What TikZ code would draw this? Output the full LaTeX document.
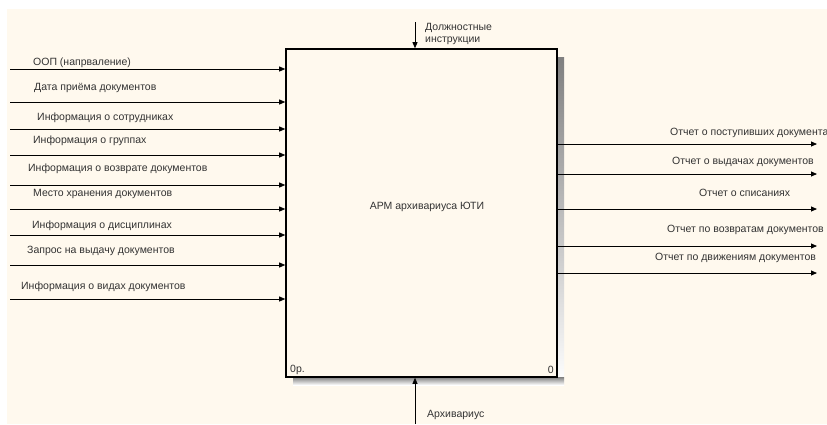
\documentclass[tikz,border=0pt]{standalone}
\usepackage{fontspec}
\setmainfont{Liberation Sans}
\usetikzlibrary{arrows.meta}
\usetikzlibrary{positioning}
\definecolor{paper}{HTML}{FFF9EE}
\definecolor{ink}{HTML}{333333}
\definecolor{shade}{HTML}{ABABAB}
\tikzset{
  flow/.style={-{Triangle[length=6pt,width=5pt]}, line width=0.8pt},
  lbl/.style={anchor=west, inner sep=0pt, text=ink, font=\fontsize{10.5}{12}\selectfont},
}

\begin{document}
\begin{tikzpicture}[x=1pt,y=-1pt]
\useasboundingbox (0,0) rectangle (827,424);
\clip (0,0) rectangle (827,424);
\fill[paper] (7,9) rectangle (827,424);
% shadow of the box
\fill[shade] (557,57) rectangle (564,385);
\fill[shade] (293,377) rectangle (564,385);
\node[draw, line width=1.6pt, fill=paper, minimum width=271pt, minimum height=328pt, inner sep=0pt] (arm) at (421.5,213) {};
\node[lbl, anchor=center] (armname) at (427,207) {АРМ архивариуса ЮТИ};
\node[lbl] (arml) at (290,370) {0р.};
\node[lbl, anchor=east] (armr) at (554,370) {0};

% control and mechanism
\coordinate (ctl) at (415,22);
\draw[flow] (ctl) -- (ctl |- arm.north);
\node[lbl, align=left] (ctlname) at (425,34) {Должностные\\инструкции};
\coordinate (mech) at (415,424);
\draw[flow] (mech) -- (mech |- arm.south);
\node[lbl] (mechname) at (427,415) {Архивариус};

% inputs
\coordinate (in1) at (10,69);
\draw[flow] (in1) -- (in1 -| arm.west);
\node[lbl] (in1name) at (33,63) {ООП (напрваление)};
\coordinate (in2) at (10,102);
\draw[flow] (in2) -- (in2 -| arm.west);
\node[lbl] (in2name) at (34,88) {Дата приёма документов};
\coordinate (in3) at (10,129);
\draw[flow] (in3) -- (in3 -| arm.west);
\node[lbl] (in3name) at (37,118) {Информация о сотрудниках};
\coordinate (in4) at (10,155);
\draw[flow] (in4) -- (in4 -| arm.west);
\node[lbl] (in4name) at (33,141) {Информация о группах};
\coordinate (in5) at (10,185);
\draw[flow] (in5) -- (in5 -| arm.west);
\node[lbl] (in5name) at (28,169) {Информация о возврате документов};
\coordinate (in6) at (10,209);
\draw[flow] (in6) -- (in6 -| arm.west);
\node[lbl] (in6name) at (33,194) {Место хранения документов};
\coordinate (in7) at (10,235);
\draw[flow] (in7) -- (in7 -| arm.west);
\node[lbl] (in7name) at (32,226) {Информация о дисциплинах};
\coordinate (in8) at (10,265);
\draw[flow] (in8) -- (in8 -| arm.west);
\node[lbl] (in8name) at (27,251) {Запрос на выдачу документов};
\coordinate (in9) at (10,299);
\draw[flow] (in9) -- (in9 -| arm.west);
\node[lbl] (in9name) at (21,287) {Информация о видах документов};

% outputs
\coordinate (out1) at (817,144);
\draw[flow] (out1 -| arm.east) -- (out1);
\node[lbl] (out1name) at (670,133) {Отчет о поступивших документах};
\coordinate (out2) at (817,174);
\draw[flow] (out2 -| arm.east) -- (out2);
\node[lbl] (out2name) at (672,162) {Отчет о выдачах документов};
\coordinate (out3) at (817,209);
\draw[flow] (out3 -| arm.east) -- (out3);
\node[lbl] (out3name) at (699,193) {Отчет о списаниях};
\coordinate (out4) at (817,246);
\draw[flow] (out4 -| arm.east) -- (out4);
\node[lbl] (out4name) at (667,230) {Отчет по возвратам документов};
\coordinate (out5) at (817,273);
\draw[flow] (out5 -| arm.east) -- (out5);
\node[lbl] (out5name) at (655,258) {Отчет по движениям документов};
\end{tikzpicture}
\end{document}
